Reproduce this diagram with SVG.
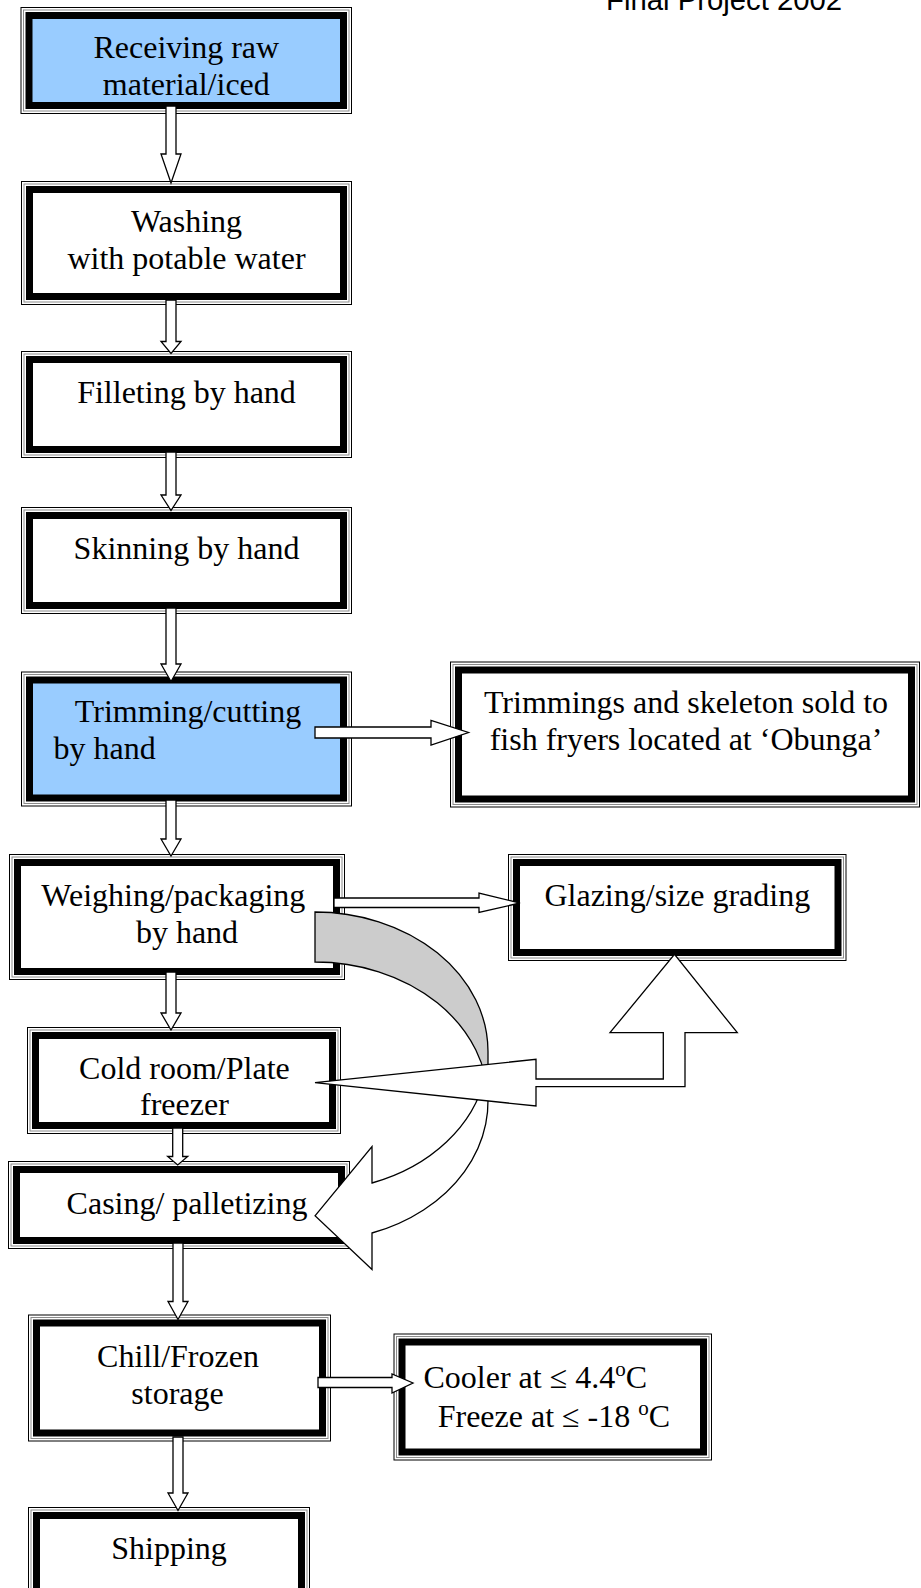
<svg xmlns="http://www.w3.org/2000/svg" width="921" height="1588" viewBox="0 0 921 1588">
<style>
.t{font-family:"Liberation Serif","Times New Roman",serif;font-size:32px;fill:#000}
.c{text-anchor:middle}
.s{font-family:"Liberation Sans",Arial,sans-serif;font-size:29.3px;fill:#000}
.o{fill:none;stroke:#000;stroke-width:1}
.g{fill:none;stroke:#8a8a8a;stroke-width:1}
.k{stroke:#000;stroke-width:7}
.w{fill:#fff}
.b{fill:#99ccff}
.arr{fill:#fff;stroke:#000;stroke-width:1.3;stroke-linejoin:miter}
</style>
<rect width="921" height="1588" fill="#fff"/>
<text class="s" x="606" y="9.5">Final Project 2002</text>

<g id="n1">
<rect class="o" x="21" y="7.5" width="330.5" height="106"/>
<rect class="g" x="23.5" y="10" width="325.5" height="101"/>
<rect class="k b" x="29" y="15.5" width="314.5" height="90"/>
<text class="t c" x="186.3" y="58">Receiving raw</text>
<text class="t c" x="186.3" y="94.6">material/iced</text>
</g>
<g id="n2">
<rect class="o" x="21.5" y="181.5" width="330" height="123"/>
<rect class="g" x="24" y="184" width="325" height="118"/>
<rect class="k w" x="29.5" y="189.5" width="314" height="107"/>
<text class="t c" x="186.5" y="232">Washing</text>
<text class="t c" x="186.5" y="269">with potable water</text>
</g>
<g id="n3">
<rect class="o" x="21.5" y="351.5" width="330" height="106"/>
<rect class="g" x="24" y="354" width="325" height="101"/>
<rect class="k w" x="29.5" y="359.5" width="314" height="90"/>
<text class="t c" x="186.5" y="403">Filleting by hand</text>
</g>
<g id="n4">
<rect class="o" x="21.5" y="507.5" width="330" height="106"/>
<rect class="g" x="24" y="510" width="325" height="101"/>
<rect class="k w" x="29.5" y="515.5" width="314" height="90"/>
<text class="t c" x="186.5" y="558.5">Skinning by hand</text>
</g>
<g id="n5">
<rect class="o" x="21.5" y="672" width="330" height="134"/>
<rect class="g" x="24" y="674.5" width="325" height="129"/>
<rect class="k b" x="29.5" y="680" width="314" height="118"/>
<text class="t c" x="188" y="722">Trimming/cutting</text>
<text class="t" x="53.5" y="758.8">by hand</text>
</g>
<g id="n6">
<rect class="o" x="450.5" y="662" width="469" height="145"/>
<rect class="g" x="453" y="664.5" width="464" height="140"/>
<rect class="k w" x="458.5" y="670" width="453" height="129"/>
<text class="t c" x="686" y="712.5">Trimmings and skeleton sold to</text>
<text class="t c" x="686" y="750">fish fryers located at ‘Obunga’</text>
</g>
<g id="n7">
<rect class="o" x="9.5" y="854.5" width="335" height="125"/>
<rect class="g" x="12" y="857" width="330" height="120"/>
<rect class="k w" x="17.5" y="862.5" width="319" height="109"/>
<text class="t c" x="173.3" y="906">Weighing/packaging</text>
<text class="t c" x="187" y="942.6">by hand</text>
</g>
<g id="n8">
<rect class="o" x="508.5" y="854.5" width="337.5" height="106"/>
<rect class="g" x="511" y="857" width="332.5" height="101"/>
<rect class="k w" x="516.5" y="862.5" width="321.5" height="90"/>
<text class="t c" x="677.3" y="906">Glazing/size grading</text>
</g>
<g id="n9">
<rect class="o" x="27.5" y="1027.5" width="313" height="106"/>
<rect class="g" x="30" y="1030" width="308" height="101"/>
<rect class="k w" x="35.5" y="1035.5" width="297" height="90"/>
<text class="t c" x="184.4" y="1079">Cold room/Plate</text>
<text class="t c" x="184.4" y="1114.5">freezer</text>
</g>
<g id="n10">
<rect class="o" x="8.5" y="1161.5" width="341" height="87"/>
<rect class="g" x="11" y="1164" width="336" height="82"/>
<rect class="k w" x="16.5" y="1169.5" width="325" height="71"/>
<text class="t c" x="187" y="1213.5">Casing/ palletizing</text>
</g>
<g id="n11">
<rect class="o" x="28.5" y="1315" width="302" height="126"/>
<rect class="g" x="31" y="1317.5" width="297" height="121"/>
<rect class="k w" x="36.5" y="1323" width="286" height="110"/>
<text class="t c" x="178" y="1366.5">Chill/Frozen</text>
<text class="t c" x="177.5" y="1403.5">storage</text>
</g>
<g id="n12">
<rect class="o" x="394" y="1334" width="317.5" height="126"/>
<rect class="g" x="396.5" y="1336.5" width="312.5" height="121"/>
<rect class="k w" x="402" y="1342" width="301.5" height="110"/>
<text class="t" x="423.5" y="1387.5">Cooler at ≤ 4.4<tspan font-size="21" dy="-12">o</tspan><tspan dy="12">C</tspan></text>
<text class="t" x="437.7" y="1426.5">Freeze at ≤ -18 <tspan font-size="21" dy="-12">o</tspan><tspan dy="12">C</tspan></text>
</g>
<g id="n13">
<rect class="o" x="28.5" y="1507.5" width="281" height="110"/>
<rect class="g" x="31" y="1510" width="276" height="105"/>
<rect class="k w" x="36.5" y="1515.5" width="265" height="94"/>
<text class="t c" x="169" y="1559">Shipping</text>
</g>

<g id="connectors">
<polygon class="arr" points="166,106 176,106 176,154 181,154 171,183 161,154 166,154"/>
<polygon class="arr" points="166,300 176,300 176,341.5 181,341.5 171,353.5 161,341.5 166,341.5"/>
<polygon class="arr" points="166,452 176,452 176,495 181,495 171,510.5 161,495 166,495"/>
<polygon class="arr" points="166,608 176,608 176,664 181,664 171,681.5 161,664 166,664"/>
<polygon class="arr" points="166,800 176,800 176,839 181,839 171,856 161,839 166,839"/>
<polygon class="arr" points="166,972 176,972 176,1013 181,1013 171,1030 161,1013 166,1013"/>
<polygon class="arr" points="172.7,1128 182.7,1128 182.7,1156.5 187.7,1156.5 177.7,1165 167.7,1156.5 172.7,1156.5"/>
<polygon class="arr" points="173,1243 183,1243 183,1301.5 188,1301.5 178,1319.5 168,1301.5 173,1301.5"/>
<polygon class="arr" points="173,1437 183,1437 183,1493 188,1493 178,1510.5 168,1493 173,1493"/>
<polygon class="arr" points="315,727 431,727 431,720.5 468.5,732.5 431,745 431,738 315,738"/>
<polygon class="arr" points="334,898 479,898 479,893 520,903 479,912.5 479,907.5 334,907.5"/>
<polygon class="arr" points="318,1377.5 392,1377.5 392,1374 413,1383 392,1393 392,1387.5 318,1387.5"/>
<path fill="#cccccc" stroke="#000" stroke-width="1.3" d="M315,912 A173,139.4 0 0 1 488,1051.4 L488,1101.4 A173,139.4 0 0 0 315,962 Z"/>
<path class="arr" d="M315,1215.8 L372,1146.5 L372,1183 A173,139.4 0 0 0 485.2,1076.4 A173,139.4 0 0 1 372,1233 L372,1269.5 Z"/>
<polygon class="arr" points="315,1082.7 536,1059.3 536,1079 663.3,1079 663.3,1032.7 610,1032.7 674.5,954.4 737.3,1032.7 685,1032.7 685,1086.7 536,1086.7 536,1106"/>
</g>
</svg>
